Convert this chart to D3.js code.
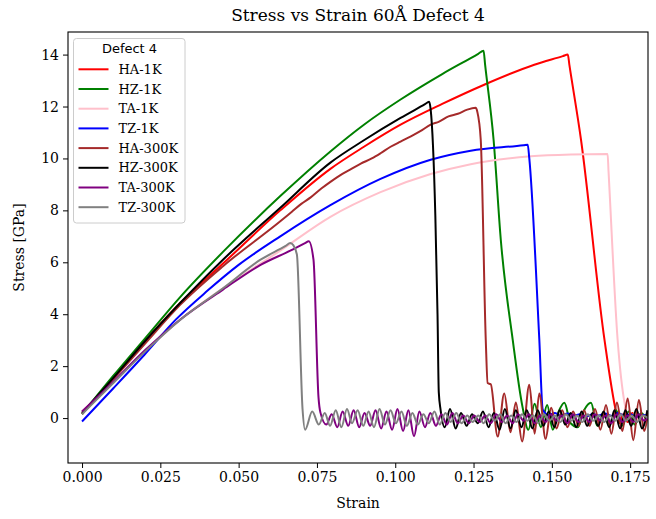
<!DOCTYPE html>
<html><head><meta charset="utf-8">
<script src="https://cdn.jsdelivr.net/npm/d3@7"></script>
<style>body{margin:0;background:#fff}svg{display:block}</style>
</head><body>
<svg id="c" width="656" height="519"></svg>
<script>
// ---- DATA ----
const title = "Stress vs Strain 60Å Defect 4";
const xLabel = "Strain";
const yLabel = "Stress [GPa]";
const legendTitle = "Defect 4";
const seriesNames = ["HA-1K","HZ-1K","TA-1K","TZ-1K","HA-300K","HZ-300K","TA-300K","TZ-300K"];
const seriesColors = ["#ff0000","#008000","#ffc0cb","#0000ff","#a52a2a","#000000","#800080","#808080"];
const xTicks = [0,0.025,0.05,0.075,0.1,0.125,0.15,0.175];
const yTicks = [0,2,4,6,8,10,12,14];

const ha1k = [[0,0.15],[0.01,1.55],[0.02,2.95],[0.0314,4.44],[0.045,5.95],[0.0633,8.0],[0.0793,9.6],[0.09,10.45],[0.1017,11.3],[0.115,12.1],[0.1284,12.84],[0.1444,13.61],[0.1535,13.94],[0.1551,14.0],
 [0.1556,13.6],[0.1593,10.73],[0.1668,3.02],[0.1705,0.25],
 [0.1715,-0.2],[0.1728,0.15],[0.1742,-0.15],[0.1757,0.2],[0.1772,-0.1],[0.1787,0.15],[0.1802,-0.05]];
const hz1k = [[0,0.15],[0.01,1.63],[0.02,3.05],[0.0314,4.67],[0.045,6.4],[0.0633,8.55],[0.0793,10.27],[0.09,11.3],[0.1017,12.27],[0.115,13.25],[0.1265,14.03],[0.1282,14.15],
 [0.1287,13.6],[0.1314,10.72],[0.1337,6.87],[0.1375,3.02],[0.1406,0.45],
 [0.1425,-0.45],[0.1445,0.55],[0.1465,-0.35],[0.1485,0.5],[0.1503,-0.45],[0.152,0.2],[0.154,0.59],[0.156,-0.2],[0.1583,-0.35],[0.1603,0.3],[0.1625,0.59],[0.1645,-0.3],[0.1665,0.2],[0.1685,-0.25],[0.1705,0.3],[0.1725,-0.3],[0.1745,0.25],[0.1765,-0.25],[0.1785,0.2],[0.1805,-0.1]];
const ta1k = [[0,0.25],[0.01,1.4],[0.02,2.55],[0.0314,3.8],[0.045,5.0],[0.0633,6.45],[0.0793,7.75],[0.0953,8.7],[0.1113,9.4],[0.1241,9.78],[0.1433,10.08],[0.1561,10.15],[0.1678,10.17],
 [0.1681,9.5],[0.171,3.02],[0.1732,0.59],
 [0.1745,0.0],[0.1762,0.15],[0.1778,-0.1],[0.1795,0.1],[0.1807,0.0]];
const tz1k = [[0,-0.13],[0.01,1.15],[0.02,2.45],[0.03,3.8],[0.04,4.9],[0.05,5.9],[0.0633,7.0],[0.0793,8.2],[0.0953,9.21],[0.1113,9.95],[0.1241,10.3],[0.141,10.51],[0.1423,10.53],
 [0.1428,10.0],[0.146,3.02],[0.1471,0.32],
 [0.149,0.12],[0.151,0.2],[0.153,0.08],[0.155,0.18],[0.157,0.1],[0.159,0.15],[0.161,0.05],[0.163,0.15],[0.165,0.1],[0.167,0.18],[0.169,0.08],[0.171,0.2],[0.173,0.1],[0.175,0.15],[0.177,0.05],[0.179,0.12],[0.1807,0.1]];
const ha300k = [[0,0.2],[0.01,1.5],[0.02,2.85],[0.0314,4.37],[0.045,5.85],[0.0633,7.58],[0.067,7.95],[0.07,8.25],[0.073,8.5],[0.0765,8.85],[0.0793,9.1],[0.083,9.4],[0.086,9.6],[0.089,9.8],[0.0925,10.0],[0.0953,10.2],[0.0985,10.45],[0.1017,10.65],[0.105,10.85],[0.108,11.05],[0.1113,11.3],[0.114,11.42],[0.117,11.62],[0.12,11.72],[0.123,11.88],[0.1257,11.95],
 [0.1262,11.8],[0.1273,10.72],[0.1289,3.02],[0.1295,1.35],[0.1305,1.3],[0.1327,-0.71],[0.1348,0.95],[0.1368,-0.55],[0.1385,0.6],[0.1405,-0.9],[0.1428,1.28],[0.1445,-0.6],[0.146,0.95],[0.148,-0.8],[0.1498,0.4],[0.1515,-0.4],[0.1533,0.3],[0.155,-0.35],[0.1568,0.25],[0.1585,-0.3],[0.1603,0.3],[0.162,-0.3],[0.1638,0.35],[0.1655,-0.45],[0.1673,0.5],[0.169,-0.6],[0.1708,0.6],[0.1725,-0.5],[0.1742,0.75],[0.176,-0.85],[0.1778,0.7],[0.1795,-0.5],[0.1807,0.2]];
const hz300k = [[0,0.2],[0.01,1.55],[0.02,2.95],[0.0314,4.44],[0.045,6.1],[0.0633,8.1],[0.0793,9.84],[0.09,10.7],[0.1017,11.56],[0.1095,12.09],[0.1108,12.18],
 [0.1113,11.9],[0.1128,7.8],[0.1135,4.0],[0.1139,1.0],[0.1145,0.3],
 [0.1158,-0.35],[0.1175,0.35],[0.1193,-0.4],[0.121,0.2],[0.1228,-0.3],[0.1245,0.15],[0.1263,-0.2],[0.128,0.25],[0.1298,-0.35],[0.1315,0.2],[0.1333,-0.45],[0.135,0.35],[0.1368,-0.4],[0.1385,0.3],[0.1403,-0.35],[0.142,0.3],[0.1438,-0.4],[0.1455,0.3],[0.1473,-0.3],[0.149,0.25],[0.1508,-0.35],[0.1525,0.3],[0.1543,-0.25],[0.156,0.2],[0.1578,-0.35],[0.1595,0.25],[0.1613,-0.3],[0.163,0.2],[0.1648,-0.3],[0.1665,0.25],[0.1683,-0.35],[0.17,0.3],[0.1718,-0.4],[0.1735,0.3],[0.1753,-0.3],[0.177,0.35],[0.1788,-0.4],[0.1805,0.3]];
const ta300k = [[0,0.25],[0.01,1.4],[0.02,2.6],[0.0314,3.8],[0.045,4.95],[0.057,5.9],[0.0665,6.45],[0.0712,6.74],[0.0724,6.81],
 [0.0739,6.1],[0.0755,0.8],[0.0761,0.22],
 [0.078,-0.25],[0.0797,0.15],[0.0815,-0.35],[0.0832,0.25],[0.085,-0.3],[0.0867,0.3],[0.0885,-0.35],[0.0902,0.2],[0.092,-0.3],[0.0937,0.3],[0.0955,-0.4],[0.0972,0.25],[0.099,-0.45],[0.1007,0.35],[0.1025,-0.5],[0.1042,0.3],[0.106,-0.7],[0.1077,0.25],[0.1095,-0.35],[0.1112,0.2],[0.113,-0.3],[0.1147,0.15],[0.1165,-0.25],[0.1182,0.2],[0.12,-0.2],[0.1217,0.1],[0.1235,-0.2],[0.1252,0.1],[0.127,-0.15],[0.1287,0.1],[0.1305,-0.2],[0.1322,0.15],[0.134,-0.15],[0.1357,0.1],[0.1375,-0.2],[0.1392,0.15],[0.141,-0.1],[0.1427,0.15],[0.1445,-0.2],[0.1462,0.1],[0.148,-0.15],[0.1497,0.15],[0.1515,-0.1],[0.1532,0.1],[0.155,-0.2],[0.1567,0.15],[0.1585,-0.15],[0.1602,0.1],[0.162,-0.15],[0.1637,0.15],[0.1655,-0.1],[0.1672,0.1],[0.169,-0.2],[0.1707,0.15],[0.1725,-0.15],[0.1742,0.1],[0.176,-0.15],[0.1777,0.15],[0.1795,-0.1],[0.1807,0.05]];
const tz300k = [[0,0.15],[0.01,1.35],[0.02,2.55],[0.0314,3.79],[0.045,5.0],[0.057,6.1],[0.065,6.63],[0.0665,6.74],
 [0.0675,6.65],[0.0686,6.3],[0.0704,0.35],[0.0712,-0.45],
 [0.0735,0.25],[0.0756,-0.25],[0.0775,0.2],[0.0792,-0.3],[0.081,0.3],[0.0828,-0.35],[0.0846,0.35],[0.0862,-0.2],[0.088,0.3],[0.0898,-0.3],[0.0915,0.25],[0.0932,-0.35],[0.095,0.35],[0.0967,-0.25],[0.0985,0.3],[0.1002,-0.2],[0.102,0.25],[0.1037,-0.3],[0.1055,0.2],[0.1072,-0.25],[0.109,0.15],[0.1107,-0.2],[0.1125,0.25],[0.1142,-0.25],[0.116,0.2],[0.1177,-0.15],[0.1195,0.2],[0.1212,-0.2],[0.123,0.1],[0.1247,-0.15],[0.1265,0.1],[0.1282,-0.2],[0.13,0.15],[0.1317,-0.1],[0.1335,0.15],[0.1352,-0.2],[0.137,0.1],[0.1387,-0.15],[0.1405,0.15],[0.1422,-0.1],[0.144,0.1],[0.1457,-0.2],[0.1475,0.15],[0.1492,-0.1],[0.151,0.1],[0.1527,-0.15],[0.1545,0.15],[0.1562,-0.1],[0.158,0.1],[0.1597,-0.15],[0.1615,0.15],[0.1632,-0.1],[0.165,0.1],[0.1667,-0.15],[0.1685,0.1],[0.1702,-0.1],[0.172,0.15],[0.1737,-0.1],[0.1755,0.1],[0.1772,-0.15],[0.179,0.1],[0.1807,0.0]];

const seriesData = [ha1k, hz1k, ta1k, tz1k, ha300k, hz300k, ta300k, tz300k];

// ---- LAYOUT ----
const L = 68, R = 648, T = 32, B = 463;
const svg = d3.select("#c");
const x = d3.scaleLinear().domain([-0.00448, 0.1807]).range([L, R]);
const y = d3.scaleLinear().domain([-1.73, 14.87]).range([B, T]);
const serif = "'DejaVu Serif', serif";

svg.append("defs").append("clipPath").attr("id","clip")
  .append("rect").attr("x",L).attr("y",T).attr("width",R-L).attr("height",B-T);

const line = d3.line().curve(d3.curveMonotoneX).x(d => x(d[0])).y(d => y(d[1]));
const g = svg.append("g").attr("clip-path","url(#clip)");
seriesData.forEach((d,i) => {
  g.append("path").datum(d).attr("d", line)
    .attr("fill","none").attr("stroke", seriesColors[i])
    .attr("stroke-width", 2).attr("stroke-linejoin","round").attr("stroke-linecap","butt");
});

// axes
const xAxis = svg.append("g").attr("transform",`translate(0,${B})`)
  .call(d3.axisBottom(x).tickValues(xTicks).tickFormat(d3.format(".3f")).tickSize(5).tickPadding(4));
const yAxis = svg.append("g").attr("transform",`translate(${L},0)`)
  .call(d3.axisLeft(y).tickValues(yTicks).tickFormat(d3.format("d")).tickSize(5).tickPadding(4));
[xAxis,yAxis].forEach(a => {
  a.select(".domain").remove();
  a.selectAll("text").attr("font-family", serif).attr("font-size", 14).attr("fill","#000");
  a.selectAll("line").attr("stroke","#000").attr("stroke-width",1);
});

svg.append("rect").attr("x",L).attr("y",T).attr("width",R-L).attr("height",B-T)
  .attr("fill","none").attr("stroke","#000").attr("stroke-width",1.1);

// labels
svg.append("text").attr("x",(L+R)/2).attr("y",21).attr("text-anchor","middle")
  .attr("font-family",serif).attr("font-size",17).text(title);
svg.append("text").attr("x",(L+R)/2).attr("y",508).attr("text-anchor","middle")
  .attr("font-family",serif).attr("font-size",14).text(xLabel);
svg.append("text").attr("transform",`translate(24,${(T+B)/2}) rotate(-90)`).attr("text-anchor","middle")
  .attr("font-family",serif).attr("font-size",14).text(yLabel);

// legend
const lg = svg.append("g");
lg.append("rect").attr("x",73.5).attr("y",38.5).attr("width",111.5).attr("height",184.5)
  .attr("rx",3).attr("fill","#fff").attr("fill-opacity",0.8).attr("stroke","#cccccc").attr("stroke-width",1);
lg.append("text").attr("x",129.5).attr("y",53).attr("text-anchor","middle")
  .attr("font-family","'DejaVu Sans', sans-serif").attr("font-size",13).text(legendTitle);
seriesNames.forEach((n,i) => {
  const cy = 69.3 + i*19.7;
  lg.append("line").attr("x1",78.5).attr("x2",108.5).attr("y1",cy).attr("y2",cy)
    .attr("stroke",seriesColors[i]).attr("stroke-width",2);
  lg.append("text").attr("x",118.5).attr("y",cy+4.5)
    .attr("font-family",serif).attr("font-size",13).text(n);
});
</script>
</body></html>
